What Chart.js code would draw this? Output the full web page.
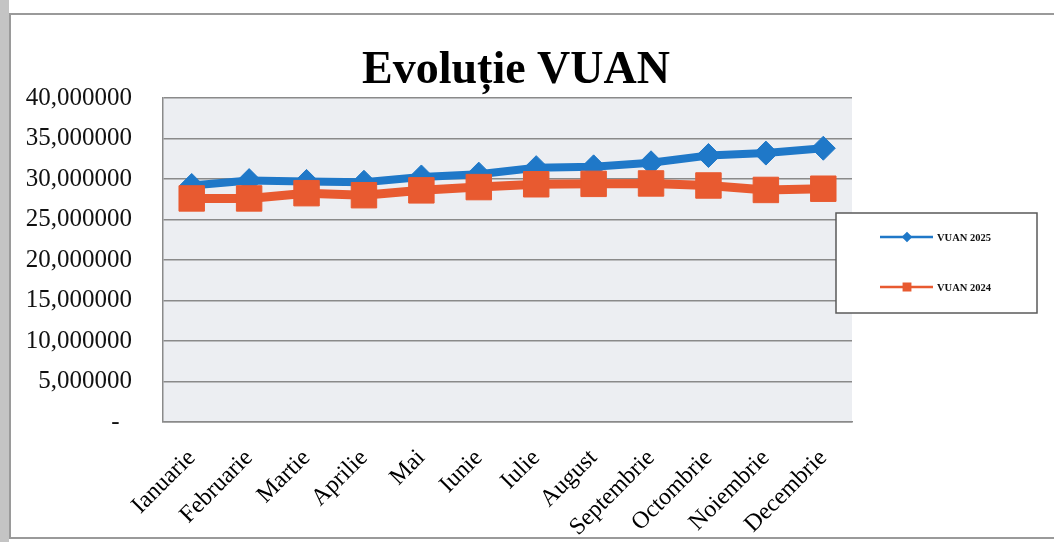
<!DOCTYPE html>
<html>
<head>
<meta charset="utf-8">
<script src="https://cdn.jsdelivr.net/npm/chart.js@4/dist/chart.umd.min.js"></script>
<style>
  html, body { margin: 0; padding: 0; background: #fff; }
  #wrap { width: 1054px; height: 542px; position: relative; }
</style>
</head>
<body>
<div id="wrap"><canvas id="chart" width="1054" height="542"></canvas></div>
<script>
const chartTitle = "Evoluție VUAN";
const months = ["Ianuarie", "Februarie", "Martie", "Aprilie", "Mai", "Iunie",
    "Iulie", "August", "Septembrie", "Octombrie", "Noiembrie", "Decembrie"];
const vuan2025 = [29200000, 29800000, 29700000, 29600000, 30250000, 30600000,
    31400000, 31500000, 32000000, 32900000, 33200000, 33800000];
const vuan2024 = [27600000, 27600000, 28250000, 28000000, 28600000, 29000000,
    29350000, 29400000, 29450000, 29200000, 28650000, 28800000];
const yTickLabels = ["-  ", "5,000000", "10,000000", "15,000000", "20,000000",
    "25,000000", "30,000000", "35,000000", "40,000000"];
const seriesNames = ["VUAN 2025", "VUAN 2024"];

const BLUE = "#1f78c8";
const ORANGE = "#e85a30";
const SERIF = "'Liberation Serif', 'Times New Roman', serif";

// background, frame and title
const framePlugin = {
    id: "frame",
    beforeDraw(chart) {
        const { ctx, chartArea } = chart;
        ctx.save();
        ctx.fillStyle = "#ffffff";
        ctx.fillRect(0, 0, chart.width, chart.height);
        ctx.fillStyle = "#c4c4c4";
        ctx.fillRect(0, 0, 9, chart.height);
        ctx.strokeStyle = "#9a9a9a";
        ctx.lineWidth = 2;
        ctx.strokeRect(10, 14, chart.width + 10, chart.height - 18);
        ctx.fillStyle = "#eceef2";
        ctx.fillRect(chartArea.left, chartArea.top,
            chartArea.right - chartArea.left, chartArea.bottom - chartArea.top);
        ctx.fillStyle = "#000";
        ctx.font = "bold 46px " + SERIF;
        ctx.textAlign = "center";
        ctx.textBaseline = "alphabetic";
        ctx.fillText(chartTitle, 516, 83);
        ctx.restore();
    },
};

// boxed legend on the right
const legendBoxPlugin = {
    id: "legendBox",
    afterDraw(chart) {
        const { ctx } = chart;
        ctx.save();
        ctx.fillStyle = "#ffffff";
        ctx.fillRect(836, 213, 201, 100);
        ctx.strokeStyle = "#5a5a5a";
        ctx.lineWidth = 1.5;
        ctx.strokeRect(836, 213, 201, 100);
        const rows = [237, 287];
        chart.data.datasets.forEach((ds, i) => {
            const y = rows[i];
            ctx.strokeStyle = ds.borderColor;
            ctx.lineWidth = 2.5;
            ctx.beginPath();
            ctx.moveTo(880, y);
            ctx.lineTo(933, y);
            ctx.stroke();
            ctx.fillStyle = ds.backgroundColor;
            Chart.helpers.drawPoint(ctx, {
                pointStyle: ds.pointStyle,
                radius: i === 0 ? 3.5 : 4.5,
                borderWidth: 1,
            }, 907, y);
            ctx.fillStyle = "#111";
            ctx.font = "bold 10.5px " + SERIF;
            ctx.textAlign = "left";
            ctx.textBaseline = "middle";
            ctx.fillText(seriesNames[i], 937, y + 1);
        });
        ctx.restore();
    },
};

new Chart(document.getElementById("chart").getContext("2d"), {
    type: "line",
    data: {
        labels: months,
        datasets: [
            {
                label: seriesNames[0],
                data: vuan2025,
                borderColor: BLUE,
                backgroundColor: BLUE,
                borderWidth: 8,
                pointStyle: "rectRot",
                pointRadius: 12,
                pointBorderWidth: 1,
                tension: 0,
                order: 2,
            },
            {
                label: seriesNames[1],
                data: vuan2024,
                borderColor: ORANGE,
                backgroundColor: ORANGE,
                borderWidth: 9,
                pointStyle: "rect",
                pointRadius: 18,
                pointBorderWidth: 1,
                tension: 0,
                order: 1,
            },
        ],
    },
    options: {
        responsive: false,
        animation: false,
        layout: {
            padding: { left: 10, top: 98, right: 202, bottom: 0 },
        },
        plugins: {
            legend: { display: false },
            title: { display: false },
            tooltip: { enabled: false },
        },
        scales: {
            x: {
                offset: true,
                grid: { display: false, offset: true },
                border: { display: true, color: "#8a8a8a", width: 1.5 },
                ticks: {
                    autoSkip: false,
                    minRotation: 45,
                    maxRotation: 45,
                    padding: 14,
                    color: "#000",
                    font: { family: SERIF, size: 24 },
                },
                afterFit(scale) {
                    scale.height = 120;
                },
            },
            y: {
                min: 0,
                max: 40000000,
                grid: { color: "#8a8a8a", lineWidth: 1.5, drawTicks: false },
                border: { display: true, color: "#8a8a8a", width: 1.5 },
                ticks: {
                    stepSize: 5000000,
                    padding: 31,
                    color: "#111",
                    font: { family: SERIF, size: 25 },
                    callback: (value) => yTickLabels[Math.round(value / 5000000)],
                },
                afterFit(scale) {
                    scale.width = 153;
                },
            },
        },
    },
    plugins: [framePlugin, legendBoxPlugin],
});
</script>
</body>
</html>
